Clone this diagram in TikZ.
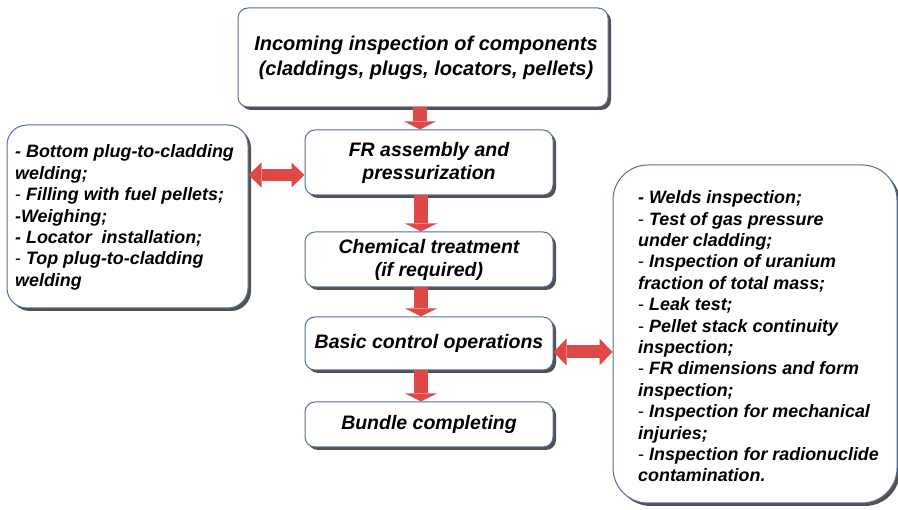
\documentclass[tikz,border=0pt]{standalone}
\usepackage{fontspec}
\setmainfont{Liberation Sans}
\usetikzlibrary{arrows.meta,shadows}
\definecolor{boxline}{RGB}{85,110,160}
\definecolor{arrred}{RGB}{224,72,72}
\newcommand{\thd}{{\mdseries\upshape -}}
\begin{document}
\begin{tikzpicture}[x=1pt,y=-1pt,
  shadowed/.style={drop shadow={shadow xshift=3pt,shadow yshift=-3pt,fill=black!80,opacity=0.85}},
  box/.style={draw=boxline,line width=1pt,fill=white,rounded corners=10pt,shadowed,
    font=\fontsize{19.5}{23}\selectfont\bfseries\itshape,align=center,inner sep=0pt},
  sidebox/.style={draw=boxline,line width=1pt,fill=white,shadowed,inner sep=0pt},
  sidetext/.style={font=\fontsize{17.9}{21.4}\selectfont\bfseries\itshape,align=left,inner sep=0pt,anchor=west},
  varrow/.style={draw=arrred,line width=14pt,-{Triangle[width=32pt,length=8pt,line width=0pt]}},
  harrow/.style={draw=arrred,line width=12pt,{Triangle[width=25pt,length=13pt,line width=0pt]}-{Triangle[width=25pt,length=13pt,line width=0pt]}}
]
\useasboundingbox (0,0) rectangle (898,510);
\fill[white] (0,0) rectangle (898,510);

% main column
\node[box,minimum width=370pt,minimum height=99pt,font=\fontsize{20}{25}\selectfont\bfseries\itshape] (top) at (423,57.5)
  {\hspace*{6pt}Incoming inspection of components\\\hspace*{6pt}(claddings, plugs, locators, pellets)};
\node[box,minimum width=248pt,minimum height=65pt] (fr) at (429,162.5)
  {FR assembly and\\pressurization};
\node[box,minimum width=248pt,minimum height=55pt] (chem) at (429,259.5)
  {Chemical treatment\\(if required)};
\node[box,minimum width=248pt,minimum height=53pt] (basic) at (429,343.5)
  {Basic control operations};
\node[box,minimum width=248pt,minimum height=45pt] (bundle) at (429,424.5)
  {Bundle completing};

% left box
\node[sidebox,rounded corners=20pt,minimum width=241pt,minimum height=183pt] (lbox) at (127.5,216.5) {};
\node[sidetext] (ltext) at (15,217.5)
  {- Bottom plug-to-cladding\\
   welding;\\
   \thd{} Filling with fuel pellets;\\
   -Weighing;\\
   - Locator\ \ installation;\\
   \thd{} Top plug-to-cladding\\
   welding};

% right box
\node[sidebox,rounded corners=35pt,minimum width=284pt,minimum height=338pt] (rbox) at (755,334) {};
\node[sidetext] (rtext) at (638,336.5)
  {- Welds inspection;\\
   \thd{} Test of gas pressure\\
   under cladding;\\
   \thd{} Inspection of uranium\\
   fraction of total mass;\\
   \thd{} Leak test;\\
   \thd{} Pellet stack continuity\\
   inspection;\\
   \thd{} FR dimensions and form\\
   inspection;\\
   \thd{} Inspection for mechanical\\
   injuries;\\
   \thd{} Inspection for radionuclide\\
   contamination.};

% vertical arrows
\draw[varrow] ([xshift=-3pt]top.south) -- ([xshift=-3pt]top.south |- fr.north);
\draw[varrow] ([xshift=-8pt]fr.south) -- ([xshift=-8pt]chem.north);
\draw[varrow] ([xshift=-8pt]chem.south) -- ([xshift=-8pt]basic.north);
\draw[varrow] ([xshift=-8pt]basic.south) -- ([xshift=-8pt]bundle.north);

% horizontal double arrows
\coordinate (la) at ([yshift=-12.5pt]fr.west);
\coordinate (ra) at ([yshift=-8.5pt]basic.east);
\draw[harrow] (la -| lbox.east) -- (la);
\draw[harrow,{Triangle[width=27pt,length=13pt,line width=0pt]}-{Triangle[width=27pt,length=13pt,line width=0pt]},line width=13pt] (ra) -- (ra -| rbox.west);
\end{tikzpicture}
\end{document}
